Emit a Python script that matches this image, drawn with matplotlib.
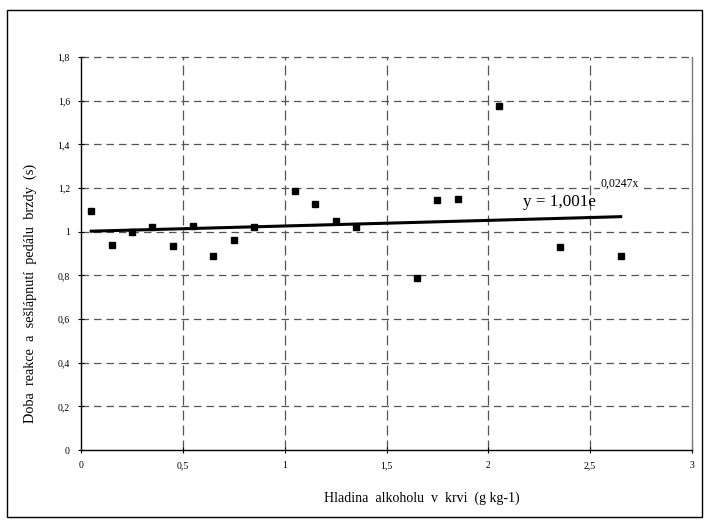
import numpy as np
import matplotlib
matplotlib.use("Agg")
import matplotlib.pyplot as plt
from matplotlib.patches import Rectangle

# Data
x_vals = [0.05, 0.15, 0.25, 0.35, 0.45, 0.55, 0.65, 0.75, 0.85, 1.05, 1.15,
          1.25, 1.35, 1.65, 1.75, 1.85, 2.05, 2.35, 2.65]
y_vals = [1.095, 0.94, 1.0, 1.02, 0.935, 1.025, 0.89, 0.96, 1.02, 1.185, 1.125,
          1.05, 1.02, 0.79, 1.145, 1.15, 1.575, 0.93, 0.89]
fit_a = 1.001
fit_b = 0.0247
x_ticks = [0, 0.5, 1, 1.5, 2, 2.5, 3]
x_ticklabels = ["0", "0,5", "1", "1,5", "2", "2,5", "3"]
y_ticks = [0, 0.2, 0.4, 0.6, 0.8, 1.0, 1.2, 1.4, 1.6, 1.8]
y_ticklabels = ["0", "0,2", "0,4", "0,6", "0,8", "1", "1,2", "1,4", "1,6", "1,8"]

plt.rcParams['font.family'] = ['Liberation Serif', 'DejaVu Serif']

W, H = 709, 524
fig = plt.figure(figsize=(W / 100, H / 100), dpi=100)
fig.patch.set_facecolor('white')

# outer frame
fig.add_artist(Rectangle((7 / W, 1 - 517 / H), (702 - 7) / W, (517 - 10) / H,
                         transform=fig.transFigure, fill=False, lw=1.0, ec='black'))

left, right, top, bottom = 81, 692, 57, 450
ax = fig.add_axes([left / W, 1 - bottom / H, (right - left) / W, (bottom - top) / H])

ax.set_xlim(0, 3)
ax.set_ylim(0, 1.8)

grid_col = '#555555'
# grid
for yv in y_ticks[1:]:
    ax.axhline(yv, color=grid_col, lw=0.9, dashes=(6, 4), zorder=1, clip_on=False)
for xv in x_ticks[1:-1]:
    ax.axvline(xv, color=grid_col, lw=0.9, dashes=(8, 4), zorder=1)

ax.spines['top'].set_visible(False)
ax.spines['right'].set_color('#777777')
ax.spines['right'].set_linewidth(1.0)
ax.spines['left'].set_linewidth(1.0)
ax.spines['bottom'].set_linewidth(1.0)

ax.set_xticks(x_ticks)
ax.set_xticklabels(x_ticklabels)
ax.set_yticks(y_ticks)
ax.set_yticklabels(y_ticklabels)
ax.tick_params(axis='both', labelsize=7, length=4, width=0.8, direction='inout', pad=6)

# data points
ax.plot(x_vals, y_vals, linestyle='none', marker='s', markersize=4.5,
        color='black', zorder=3)

# trend line
xf = np.linspace(min(x_vals), max(x_vals), 100)
ax.plot(xf, fit_a * np.exp(fit_b * xf), color='black', lw=2.2, zorder=4)

ax.text(2.17, 1.118, "y = 1,001e", fontsize=12.3, va='baseline', ha='left')
ax.text(2.55, 1.205, "0,0247x", fontsize=8.5, va='baseline', ha='left',
        bbox=dict(boxstyle='square,pad=0.05', fc='white', ec='none'), zorder=5)

fig.text(422 / W, 1 - 498 / H, "Hladina  alkoholu  v  krvi  (g kg-1)", fontsize=10,
         ha='center', va='center')
fig.text(30 / W, 1 - 293 / H, "Doba  reakce  a  sešlápnutí  pedálu  brzdy  (s)",
         fontsize=10.3, ha='center', va='center', rotation=90)

fig.savefig("out.png", dpi=100, facecolor='white')
